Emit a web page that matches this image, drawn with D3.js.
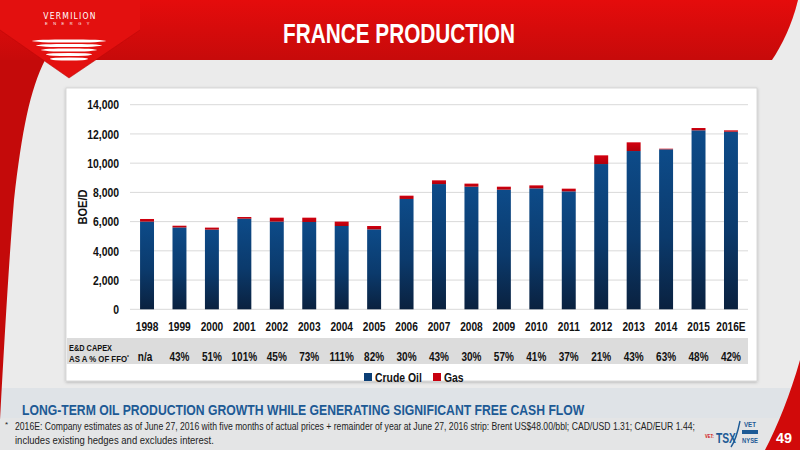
<!DOCTYPE html>
<html>
<head>
<meta charset="utf-8">
<script src="https://cdn.jsdelivr.net/npm/d3@7"></script>
<style>
  html, body { margin: 0; padding: 0; background: #ebebeb; }
  svg { display: block; font-family: "Liberation Sans Narrow", "Arial Narrow", "Liberation Sans", Arial, sans-serif; }
</style>
</head>
<body>
<div id="chart"></div>
<script>
"use strict";

const width = 800, height = 450;

//---- Data
const years = ['1998', '1999', '2000', '2001', '2002', '2003', '2004', '2005', '2006', '2007',
	'2008', '2009', '2010', '2011', '2012', '2013', '2014', '2015', '2016E'];
const crudeOil = [6000, 5600, 5450, 6200, 6000, 5975, 5700, 5470, 7550, 8570,
	8390, 8185, 8275, 8070, 9940, 10830, 10945, 12245, 12150];
const gas = [180, 120, 140, 115, 270, 295, 300, 230, 225, 255,
	210, 205, 205, 185, 595, 595, 45, 160, 95];
const capexPct = ['n/a', '43%', '51%', '101%', '45%', '73%', '111%', '82%', '30%', '43%',
	'30%', '57%', '41%', '37%', '21%', '43%', '63%', '48%', '42%'];
const yTicks = [0, 2000, 4000, 6000, 8000, 10000, 12000, 14000];
const seriesNames = ['Crude Oil', 'Gas'];

const rows = years.map((year, i) => ({ year, 'Crude Oil': crudeOil[i], 'Gas': gas[i] }));

// squeeze text horizontally, there's no narrow font installed
function condense(sel, factor) {
	sel.each(function () {
		let len = this.getComputedTextLength();
		d3.select(this)
			.attr('textLength', len * factor)
			.attr('lengthAdjust', 'spacingAndGlyphs');
	});
	return sel;
}

// same idea for long lines, but with a transform so the box shrinks too
function fitWidth(sel, x, y, w) {
	let len = sel.node().getComputedTextLength();
	let s = Math.min(1, w / len);
	sel.attr('transform', `translate(${x},${y}) scale(${s},1)`);
	return sel;
}

//---- Page
let svg = d3.select('#chart').append('svg')
	.attr('width', width)
	.attr('height', height)
	.attr('viewBox', [0, 0, width, height]);

let defs = svg.append('defs');

let oilGrad = defs.append('linearGradient').attr('id', 'oilGrad').attr('x1', 0).attr('y1', 0).attr('x2', 0).attr('y2', 1);
oilGrad.append('stop').attr('offset', '0%').attr('stop-color', '#0d4b89');
oilGrad.append('stop').attr('offset', '55%').attr('stop-color', '#0b3a6c');
oilGrad.append('stop').attr('offset', '100%').attr('stop-color', '#0a213f');

let gasGrad = defs.append('linearGradient').attr('id', 'gasGrad').attr('x1', 0).attr('y1', 0).attr('x2', 0).attr('y2', 1);
gasGrad.append('stop').attr('offset', '0%').attr('stop-color', '#d4000f');
gasGrad.append('stop').attr('offset', '100%').attr('stop-color', '#b0000c');

let redGrad = defs.append('linearGradient').attr('id', 'redGrad').attr('x1', 0).attr('y1', 0).attr('x2', 0).attr('y2', 1);
redGrad.append('stop').attr('offset', '0%').attr('stop-color', '#e50c0c');
redGrad.append('stop').attr('offset', '100%').attr('stop-color', '#c70a0a');

let shadow = defs.append('filter').attr('id', 'shadow').attr('x', '-5%').attr('y', '-5%').attr('width', '110%').attr('height', '115%');
shadow.append('feDropShadow').attr('dx', 0).attr('dy', 1).attr('stdDeviation', 1.5).attr('flood-color', '#000').attr('flood-opacity', 0.25);

// background
svg.append('rect').attr('width', width).attr('height', height).attr('fill', '#ebebeb');
svg.append('rect').attr('x', 0).attr('y', 388).attr('width', width).attr('height', 30).attr('fill', '#dfe3e7');
svg.append('rect').attr('x', 0).attr('y', 418).attr('width', width).attr('height', 32).attr('fill', '#e4e5e6');

// red left strip
svg.append('path')
	.attr('d', 'M0,0 L45,0 L45,60 C30,90 22,130 14,200 C9,260 5,330 0,420 Z')
	.attr('fill', '#c40a0a');

// header band
svg.append('path')
	.attr('d', 'M0,0 L798,0 C792,25 782,45 772,60 L0,60 Z')
	.attr('fill', 'url(#redGrad)');

// logo triangle
svg.append('path')
	.attr('d', 'M0,0 L0,30 L69,78 L140,30 L140,0 Z')
	.attr('fill', '#e3100f');
svg.append('path')
	.attr('d', 'M0,30 L69,78 L140,30')
	.attr('fill', 'none').attr('stroke', '#b80808').attr('stroke-width', 1).attr('opacity', 0.5);

// bottom right red corner
svg.append('path')
	.attr('d', 'M800,360 C790,395 778,425 765,450 L800,450 Z')
	.attr('fill', '#d10a0a');

// logo text + stripes
svg.append('text').attr('x', 70).attr('y', 19).attr('text-anchor', 'middle')
	.attr('fill', '#fff').attr('font-size', 8.5).attr('letter-spacing', 1.2)
	.attr('font-family', '"DejaVu Sans Condensed", sans-serif')
	.text('VERMILION');
svg.append('text').attr('x', 70).attr('y', 25).attr('text-anchor', 'middle')
	.attr('fill', '#fff').attr('font-size', 4).attr('letter-spacing', 5.5)
	.text('ENERGY');
const stripeWidths = [74, 66, 56, 46, 38];
stripeWidths.forEach((w, i) => {
	svg.append('ellipse')
		.attr('cx', 69).attr('cy', 41 + i * 4.5)
		.attr('rx', w / 2).attr('ry', 1.6)
		.attr('fill', '#fff');
});

// title
let title = svg.append('text')
	.attr('text-anchor', 'middle')
	.attr('fill', '#fff')
	.attr('font-weight', 'bold')
	.attr('font-size', 27)
	.text('FRANCE PRODUCTION');
fitWidth(title, 399, 43, 232);

// chart panel
svg.append('rect')
	.attr('x', 66).attr('y', 88).attr('width', 691).attr('height', 293)
	.attr('fill', '#fff').attr('stroke', '#d0d0d0').attr('stroke-width', 0.8)
	.attr('filter', 'url(#shadow)');

//---- Chart
const x = d3.scaleBand().domain(years).range([130, 748]).paddingInner(0.57).paddingOuter(0.31);
const y = d3.scaleLinear().domain([0, 14000]).range([309.3, 104.7]);

// grid
svg.append('g').selectAll('line')
	.data(yTicks)
	.join('line')
	.attr('x1', 130).attr('x2', 748)
	.attr('y1', d => y(d)).attr('y2', d => y(d))
	.attr('stroke', '#d9d9d9').attr('stroke-width', 1);

// y axis
let yAxis = svg.append('g')
	.attr('transform', 'translate(128,0)')
	.call(d3.axisLeft(y).tickValues(yTicks).tickSize(0).tickPadding(9).tickFormat(d3.format(',')));
yAxis.select('.domain').remove();
yAxis.selectAll('text')
	.attr('font-size', 13).attr('font-weight', 'bold').attr('fill', '#111')
	.attr('font-family', null);
condense(yAxis.selectAll('text'), 0.8);

let yTitle = svg.append('text')
	.attr('transform', 'translate(87,207) rotate(-90)')
	.attr('text-anchor', 'middle')
	.attr('font-size', 13).attr('font-weight', 'bold').attr('fill', '#111')
	.text('BOE/D');
condense(yTitle, 0.85);

// stacked bars
const stacked = d3.stack().keys(seriesNames)(rows);
const fills = { 'Crude Oil': 'url(#oilGrad)', 'Gas': 'url(#gasGrad)' };

svg.append('g').selectAll('g')
	.data(stacked)
	.join('g')
	.attr('fill', s => fills[s.key])
	.selectAll('rect')
	.data(s => s)
	.join('rect')
	.attr('x', d => x(d.data.year))
	.attr('width', x.bandwidth())
	.attr('y', d => y(d[1]))
	.attr('height', d => Math.max(0, y(d[0]) - y(d[1])));

// x axis labels
let xAxis = svg.append('g')
	.attr('transform', 'translate(0,309.3)')
	.call(d3.axisBottom(x).tickSize(0).tickPadding(12));
xAxis.select('.domain').remove();
xAxis.selectAll('text')
	.attr('font-size', 13).attr('font-weight', 'bold').attr('fill', '#111')
	.attr('font-family', null);
condense(xAxis.selectAll('text'), 0.78);

// capex table row
svg.append('rect')
	.attr('x', 67).attr('y', 338).attr('width', 681).attr('height', 26)
	.attr('fill', '#dcdcdc');
let capexLabel = svg.append('text')
	.attr('font-size', 9.5).attr('font-weight', 'bold').attr('fill', '#111')
	.text('E&D CAPEX');
fitWidth(capexLabel, 69, 351, 43);
let ffo = svg.append('text')
	.attr('font-size', 9.5).attr('font-weight', 'bold').attr('fill', '#111');
ffo.append('tspan').text('AS A % OF FFO');
ffo.append('tspan').attr('font-size', 6).attr('dy', -3).text('*');
fitWidth(ffo, 69, 362, 60);

let capex = svg.append('g').selectAll('text')
	.data(capexPct)
	.join('text')
	.attr('x', (d, i) => x(years[i]) + x.bandwidth() / 2 - (d === 'n/a' ? 2 : 0))
	.attr('y', 361)
	.attr('text-anchor', 'middle')
	.attr('font-size', 12.5).attr('font-weight', 'bold').attr('fill', '#111')
	.text(d => d);
condense(capex, 0.8);

// legend
let legend = svg.append('g').selectAll('g')
	.data(seriesNames)
	.join('g')
	.attr('transform', (d, i) => `translate(${[364, 433][i]},373)`);
legend.append('rect').attr('width', 8).attr('height', 8)
	.attr('fill', d => d === 'Gas' ? '#c8000e' : '#0c3f76');
let legendText = legend.append('text').attr('x', 11).attr('y', 9)
	.attr('font-size', 13).attr('font-weight', 'bold').attr('fill', '#111')
	.text(d => d);
condense(legendText, 0.8);

//---- Footer
let subtitle = svg.append('text')
	.attr('font-size', 15).attr('font-weight', 'bold').attr('fill', '#1d5a95')
	.text('LONG-TERM OIL PRODUCTION GROWTH WHILE GENERATING SIGNIFICANT FREE CASH FLOW');
fitWidth(subtitle, 22, 415, 563);

svg.append('text').attr('x', 5).attr('y', 427)
	.attr('font-size', 8).attr('fill', '#222').text('*');
let foot1 = svg.append('text')
	.attr('font-size', 10.5).attr('fill', '#222')
	.text('2016E: Company estimates as of June 27, 2016 with five months of actual prices + remainder of year at June 27, 2016 strip: Brent US$48.00/bbl; CAD/USD 1.31; CAD/EUR 1.44;');
fitWidth(foot1, 15, 430, 680);
let foot2 = svg.append('text')
	.attr('font-size', 10.5).attr('fill', '#222')
	.text('includes existing hedges and excludes interest.');
fitWidth(foot2, 15, 444, 199);

// exchange logo
let ex = svg.append('g');
fitWidth(ex.append('text').attr('font-size', 5.5).attr('font-weight', 'bold').attr('fill', '#d10a0a').text('VET:'), 705, 438, 9);
fitWidth(ex.append('text').attr('font-size', 14).attr('font-weight', 'bold').attr('fill', '#1d5a95').text('TSX'), 716, 443, 20);
ex.append('path').attr('d', 'M731,447 C736,440 738,431 740,421').attr('fill', 'none').attr('stroke', '#1d5a95').attr('stroke-width', 1.4);
fitWidth(ex.append('text').attr('font-size', 7).attr('font-weight', 'bold').attr('fill', '#1d5a95').text('VET'), 744, 427, 12);
ex.append('rect').attr('x', 742).attr('y', 430).attr('width', 16).attr('height', 4).attr('fill', '#1d5a95');
fitWidth(ex.append('text').attr('font-size', 7).attr('font-weight', 'bold').attr('fill', '#1d5a95').text('NYSE'), 742, 443, 16);

let pageNo = svg.append('text')
	.attr('text-anchor', 'middle')
	.attr('font-size', 15).attr('font-weight', 'bold').attr('fill', '#fff')
	.text('49');
fitWidth(pageNo, 784, 443, 16);
</script>
</body>
</html>
